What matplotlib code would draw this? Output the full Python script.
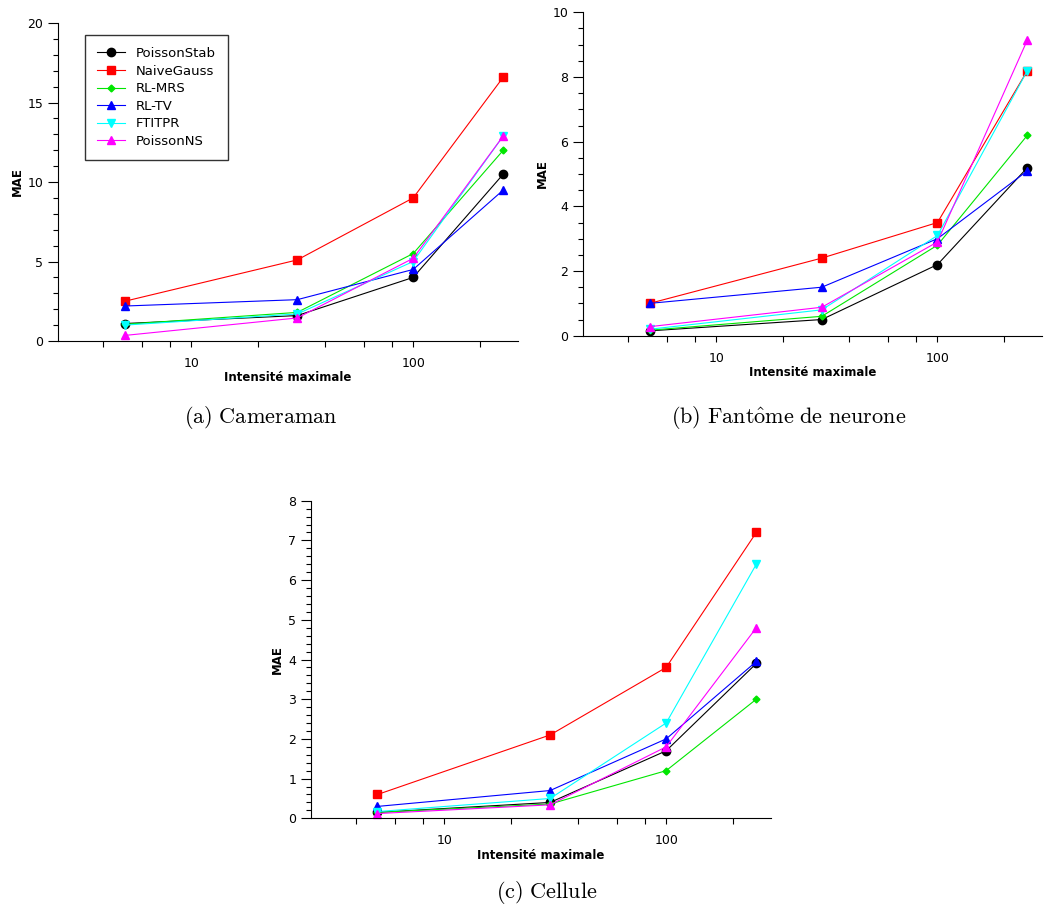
import matplotlib.pyplot as plt
from matplotlib.ticker import FixedLocator, MultipleLocator, NullFormatter

plt.rcParams["mathtext.fontset"] = "cm"

intensite = [5, 30, 100, 255]
methodes = ["PoissonStab", "NaiveGauss", "RL-MRS", "RL-TV", "FTITPR", "PoissonNS"]

# MAE pour chaque image (ordre des méthodes ci-dessus)
cameraman = [
    [1.1, 1.6, 4.0, 10.5],
    [2.5, 5.1, 9.0, 16.6],
    [1.05, 1.8, 5.5, 12.0],
    [2.2, 2.6, 4.5, 9.5],
    [1.0, 1.7, 5.0, 12.9],
    [0.35, 1.45, 5.2, 12.9],
]
neurone = [
    [0.15, 0.5, 2.2, 5.2],
    [1.0, 2.4, 3.5, 8.2],
    [0.17, 0.6, 2.8, 6.2],
    [1.0, 1.5, 3.0, 5.1],
    [0.2, 0.8, 3.1, 8.2],
    [0.28, 0.88, 2.9, 9.15],
]
cellule = [
    [0.15, 0.4, 1.7, 3.9],
    [0.6, 2.1, 3.8, 7.2],
    [0.15, 0.36, 1.2, 3.0],
    [0.3, 0.7, 2.0, 3.95],
    [0.17, 0.5, 2.4, 6.4],
    [0.12, 0.34, 1.8, 4.8],
]

couleurs = ["black", "#ff0000", "#00e600", "#0000ff", "#00ffff", "#ff00ff"]
marqueurs = ["o", "s", "D", "^", "v", "^"]
tailles = [6, 5.5, 3.5, 5.5, 5.5, 5.5]


def trace(ax, data, ymax, major, minor, legende=False):
    for i in range(len(methodes)):
        ax.plot(intensite, data[i], color=couleurs[i], marker=marqueurs[i],
                ms=tailles[i], lw=0.8, label=methodes[i], clip_on=False)
    ax.set_xscale("log")
    ax.set_xlim(2.5, 297)
    ax.set_ylim(0, ymax)
    ax.xaxis.set_major_locator(FixedLocator([10, 100]))
    ax.xaxis.set_minor_locator(FixedLocator([4, 6, 8, 20, 40, 60, 80, 200]))
    ax.xaxis.set_minor_formatter(NullFormatter())
    ax.set_xticklabels(["10", "100"])
    ax.yaxis.set_major_locator(MultipleLocator(major))
    ax.yaxis.set_minor_locator(MultipleLocator(minor))
    ax.spines["top"].set_visible(False)
    ax.spines["right"].set_visible(False)
    ax.tick_params(axis="x", which="both", length=4.5, width=0.8, labelsize=9, pad=7)
    ax.tick_params(axis="y", which="major", length=7, width=0.8, labelsize=9)
    ax.tick_params(axis="y", which="minor", length=3.5, width=0.8)
    ax.set_xlabel("Intensité maximale", fontsize=8.5, fontweight="bold", labelpad=1)
    ax.set_ylabel("MAE", fontsize=8.5, fontweight="bold", labelpad=3)
    if legende:
        leg = ax.legend(loc="upper left", bbox_to_anchor=(0.059, 0.962),
                        borderaxespad=0, fontsize=9.5, fancybox=False,
                        edgecolor="black", handlelength=2.1, labelspacing=0.35,
                        borderpad=0.9, handletextpad=0.85)
        leg.get_frame().set_linewidth(1.0)


fig = plt.figure(figsize=(10.49, 9.13), dpi=100)
ax1 = fig.add_axes([0.0553, 0.6265, 0.4385, 0.3483])
ax2 = fig.add_axes([0.5558, 0.6323, 0.4376, 0.3542])
ax3 = fig.add_axes([0.2962, 0.1037, 0.4388, 0.3479])

trace(ax1, cameraman, 20, 5, 1, legende=True)
trace(ax2, neurone, 10, 2, 0.5)
trace(ax3, cellule, 8, 1, 0.2)

fig.text(0.249, 0.543, r"$\mathrm{(a)\ Cameraman}$", ha="center", va="center", fontsize=16)
fig.text(0.752, 0.543, r"$\mathrm{(b)\ Fant\hat{o}me\ de\ neurone}$", ha="center", va="center", fontsize=16)
fig.text(0.521, 0.022, r"$\mathrm{(c)\ Cellule}$", ha="center", va="center", fontsize=16)

fig.savefig("out.png", dpi=100)
